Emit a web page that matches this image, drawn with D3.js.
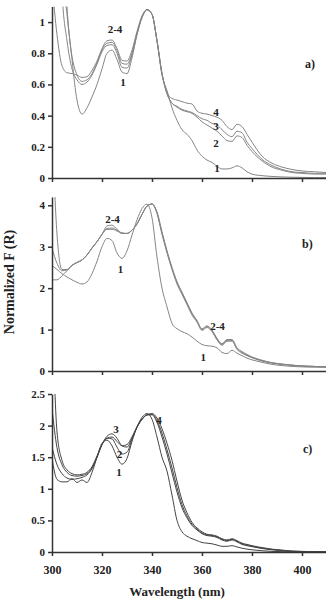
<!DOCTYPE html>
<html>
<head>
<meta charset="utf-8">
<script src="https://cdn.jsdelivr.net/npm/d3@7"></script>
<style>
  body { margin: 0; background: #fff; }
  text { font-family: "Liberation Serif", "Times New Roman", serif; font-weight: bold; fill: #222; }
  .axis path, .axis line { stroke: #333; stroke-width: 1.5; }
</style>
</head>
<body>
<svg id="chart" width="326" height="600"></svg>
<script>
// Wavelength grid (nm) shared by every curve
var WAVE = [300, 302, 304, 306, 308, 310, 312, 314, 316, 318, 320, 322, 324, 326, 328, 330,
  332, 334, 336, 338, 340, 342, 344, 346, 348, 350, 352, 354, 356, 358, 360, 362, 364, 366,
  368, 370, 372, 374, 376, 378, 380, 384, 388, 392, 396, 400, 405, 410];

// Panel a)
var A1 = [5.0, 3.2, 1.8, 1.1, 0.76, 0.5, 0.41, 0.45, 0.52, 0.6, 0.7, 0.8, 0.82, 0.76, 0.68, 0.67,
  0.77, 0.92, 1.03, 1.08, 1.05, 0.88, 0.66, 0.56, 0.45, 0.37, 0.31, 0.28, 0.24, 0.18, 0.14, 0.115, 0.1, 0.075,
  0.058, 0.058, 0.065, 0.078, 0.065, 0.04, 0.025, 0.015, 0.01, 0.007, 0.005, 0.004, 0.003, 0.003];
var A2 = [6.0, 3.0, 1.2, 0.88, 0.7, 0.63, 0.6, 0.615, 0.66, 0.73, 0.81, 0.85, 0.855, 0.8, 0.71, 0.705,
  0.79, 0.92, 1.03, 1.08, 1.05, 0.88, 0.67, 0.54, 0.48, 0.455, 0.435, 0.425, 0.415, 0.39, 0.36, 0.34, 0.32, 0.3,
  0.27, 0.24, 0.235, 0.27, 0.26, 0.21, 0.17, 0.11, 0.07, 0.05, 0.035, 0.03, 0.025, 0.025];
var A3 = [7.0, 3.6, 1.4, 1.05, 0.78, 0.66, 0.62, 0.63, 0.67, 0.74, 0.82, 0.865, 0.87, 0.82, 0.735, 0.73,
  0.8, 0.93, 1.03, 1.08, 1.05, 0.88, 0.67, 0.54, 0.48, 0.46, 0.44, 0.43, 0.42, 0.4, 0.38, 0.37, 0.35, 0.34,
  0.31, 0.28, 0.265, 0.3, 0.29, 0.23, 0.19, 0.12, 0.08, 0.055, 0.04, 0.035, 0.03, 0.03];
var A4 = [1.25, 0.92, 0.72, 0.675, 0.67, 0.66, 0.645, 0.65, 0.69, 0.75, 0.83, 0.88, 0.885, 0.83, 0.755, 0.75,
  0.82, 0.94, 1.04, 1.08, 1.05, 0.88, 0.67, 0.55, 0.51, 0.5, 0.49, 0.48, 0.475, 0.43, 0.415, 0.41, 0.4, 0.39,
  0.37, 0.33, 0.31, 0.345, 0.33, 0.28, 0.23, 0.14, 0.095, 0.07, 0.055, 0.045, 0.04, 0.035];

// Panel b)
var B1 = [2.55, 2.45, 2.35, 2.27, 2.2, 2.14, 2.1, 2.15, 2.35, 2.65, 3.0, 3.2, 3.15, 2.85, 2.72, 2.9,
  3.28, 3.65, 3.92, 4.03, 3.7, 2.75, 2.0, 1.55, 1.15, 1.02, 0.95, 0.9, 0.82, 0.72, 0.64, 0.61, 0.6, 0.56,
  0.45, 0.42, 0.5, 0.43, 0.37, 0.31, 0.27, 0.21, 0.16, 0.13, 0.11, 0.1, 0.09, 0.09];
var B2 = [6.0, 3.3, 2.45, 2.45, 2.55, 2.62, 2.68, 2.8, 2.97, 3.12, 3.3, 3.5, 3.52, 3.42, 3.33, 3.32,
  3.4, 3.55, 3.78, 3.98, 4.03, 3.8, 3.3, 2.85, 2.45, 2.1, 1.85, 1.6, 1.35, 1.18, 0.98, 1.05, 0.95, 0.75,
  0.62, 0.72, 0.72, 0.52, 0.43, 0.37, 0.32, 0.24, 0.19, 0.16, 0.14, 0.12, 0.11, 0.1];
var B3 = [2.97, 2.6, 2.42, 2.44, 2.55, 2.62, 2.68, 2.8, 2.97, 3.12, 3.3, 3.44, 3.45, 3.4, 3.33, 3.32,
  3.4, 3.55, 3.78, 3.98, 4.03, 3.82, 3.33, 2.88, 2.48, 2.13, 1.88, 1.63, 1.38, 1.2, 1.0, 1.07, 0.97, 0.77,
  0.64, 0.74, 0.74, 0.54, 0.45, 0.38, 0.33, 0.25, 0.2, 0.16, 0.14, 0.12, 0.11, 0.1];
var B4 = [2.2, 2.2, 2.3, 2.42, 2.55, 2.62, 2.68, 2.8, 2.97, 3.12, 3.3, 3.42, 3.42, 3.38, 3.32, 3.32,
  3.4, 3.55, 3.78, 3.98, 4.03, 3.84, 3.36, 2.9, 2.5, 2.16, 1.9, 1.65, 1.4, 1.22, 1.02, 1.09, 0.99, 0.79,
  0.66, 0.76, 0.76, 0.56, 0.47, 0.4, 0.34, 0.26, 0.2, 0.17, 0.14, 0.12, 0.11, 0.1];

// Panel c)
var C1 = [1.48, 1.15, 1.11, 1.11, 1.16, 1.1, 1.14, 1.1, 1.26, 1.5, 1.72, 1.77, 1.68, 1.5, 1.39, 1.48,
  1.75, 1.98, 2.13, 2.19, 2.1, 1.82, 1.5, 1.28, 0.9, 0.5, 0.32, 0.25, 0.21, 0.18, 0.15, 0.14, 0.13, 0.11,
  0.09, 0.09, 0.1, 0.08, 0.06, 0.045, 0.035, 0.02, 0.01, 0.005, 0.003, 0.002, 0, 0];
var C2 = [1.66, 1.38, 1.24, 1.17, 1.15, 1.16, 1.18, 1.22, 1.32, 1.5, 1.7, 1.8, 1.79, 1.66, 1.55, 1.58,
  1.78, 1.97, 2.1, 2.17, 2.17, 2.05, 1.82, 1.55, 1.25, 0.95, 0.7, 0.54, 0.42, 0.35, 0.29, 0.26, 0.25, 0.23,
  0.19, 0.17, 0.19, 0.16, 0.12, 0.1, 0.085, 0.055, 0.035, 0.02, 0.01, 0.006, 0.003, 0];
var C3 = [2.27, 1.65, 1.38, 1.26, 1.21, 1.2, 1.21, 1.24, 1.33, 1.5, 1.7, 1.83, 1.87, 1.8, 1.68, 1.66,
  1.8, 1.98, 2.1, 2.17, 2.18, 2.08, 1.88, 1.62, 1.33, 1.02, 0.75, 0.57, 0.44, 0.36, 0.3, 0.27, 0.26, 0.24,
  0.2, 0.18, 0.2, 0.17, 0.13, 0.11, 0.09, 0.06, 0.04, 0.025, 0.012, 0.008, 0.004, 0];
var C4 = [4.0, 1.9, 1.45, 1.3, 1.24, 1.22, 1.23, 1.26, 1.35, 1.52, 1.7, 1.8, 1.82, 1.75, 1.68, 1.7,
  1.82, 1.98, 2.1, 2.17, 2.19, 2.12, 1.95, 1.72, 1.45, 1.12, 0.82, 0.62, 0.47, 0.38, 0.32, 0.28, 0.27, 0.25,
  0.21, 0.19, 0.21, 0.18, 0.14, 0.12, 0.1, 0.07, 0.045, 0.03, 0.015, 0.01, 0.005, 0];

// Axes
var X_DOMAIN = [300, 410];
var X_TICKS = [300, 320, 340, 360, 380, 400];
var A_TICKS = [0, 0.2, 0.4, 0.6, 0.8, 1];
var B_TICKS = [0, 1, 2, 3, 4];
var C_TICKS = [0, 0.5, 1, 1.5, 2, 2.5];
var Y_MAX = [1.1, 4.2, 2.5];

// Annotations in data units: [text, wavelength, value]
var A_NOTES = [["2-4", 325.2, 0.93], ["1", 328.4, 0.59], ["4", 365.6, 0.40],
  ["3", 365.6, 0.31], ["2", 365.6, 0.2], ["1", 366, 0.04]];
var B_NOTES = [["2-4", 324.2, 3.57], ["1", 327.4, 2.37], ["2-4", 366.2, 0.99], ["1", 360.5, 0.24]];
var C_NOTES = [["3", 325.6, 1.88], ["2", 327, 1.49], ["1", 326.8, 1.21], ["4", 342.8, 2.02]];
var PANEL_NAMES = ["a)", "b)", "c)"];
var NAME_POS = [[401.2, 0.705], [400, 2.97], [400.4, 1.56]];

/*
 * Layout
 */
var LEFT = 52, RIGHT = 327;
var BOTTOMS = [178, 371, 552];
var TOPS = [6.5, 197, 394];
var COLORS = ["#858585", "#858585", "#444"];

var svg = d3.select("#chart");
var x = d3.scaleLinear().domain(X_DOMAIN).range([LEFT, RIGHT]);

var panels = [
  { series: [A1, A2, A3, A4], ticks: A_TICKS, notes: A_NOTES },
  { series: [B1, B2, B3, B4], ticks: B_TICKS, notes: B_NOTES },
  { series: [C1, C2, C3, C4], ticks: C_TICKS, notes: C_NOTES }
];

panels.forEach(function (p, i) {
  var y = d3.scaleLinear().domain([0, Y_MAX[i]]).range([BOTTOMS[i], TOPS[i]]);
  var g = svg.append("g");

  // clip so the steep left edges stop at the top of the axis
  g.append("clipPath").attr("id", "clip" + i)
    .append("rect")
    .attr("x", LEFT).attr("y", TOPS[i])
    .attr("width", RIGHT - LEFT).attr("height", BOTTOMS[i] - TOPS[i]);

  var line = d3.line()
    .x(function (d, k) { return x(WAVE[k]); })
    .y(function (d) { return y(d); })
    .curve(d3.curveMonotoneX);

  g.append("g").attr("clip-path", "url(#clip" + i + ")")
    .selectAll("path")
    .data(p.series)
    .enter().append("path")
    .attr("d", line)
    .attr("fill", "none")
    .attr("stroke", COLORS[i])
    .attr("stroke-width", 1);

  // y axis
  g.append("g")
    .attr("class", "axis")
    .attr("transform", "translate(" + LEFT + ",0)")
    .call(d3.axisLeft(y).tickValues(p.ticks).tickSize(4).tickSizeOuter(0)
      .tickFormat(function (v) { return String(v); }))
    .selectAll("text")
    .style("font-size", "11px")
    .attr("fill", "#222");

  // x axis
  var xa = g.append("g")
    .attr("class", "axis")
    .attr("transform", "translate(0," + BOTTOMS[i] + ")")
    .call(d3.axisBottom(x).tickValues(X_TICKS).tickSize(4).tickSizeOuter(0)
      .tickFormat(i == 2 ? function (v) { return String(v); } : function () { return ""; }));
  xa.selectAll("text")
    .style("font-size", "12px")
    .attr("fill", "#222")
    .attr("dy", "1.25em");

  // curve numbers
  g.selectAll(".note")
    .data(p.notes)
    .enter().append("text")
    .attr("class", "note")
    .attr("x", function (d) { return x(d[1]); })
    .attr("y", function (d) { return y(d[2]); })
    .attr("text-anchor", "middle")
    .style("font-size", "11px")
    .text(function (d) { return d[0]; });

  // panel letter
  g.append("text")
    .attr("x", x(NAME_POS[i][0]))
    .attr("y", y(NAME_POS[i][1]))
    .style("font-size", "12px")
    .text(PANEL_NAMES[i]);
});

// axis titles
svg.append("text")
  .attr("transform", "translate(14,282) rotate(-90)")
  .attr("text-anchor", "middle")
  .style("font-size", "14px")
  .text("Normalized F (R)");

svg.append("text")
  .attr("x", 177)
  .attr("y", 596)
  .attr("text-anchor", "middle")
  .style("font-size", "13px")
  .text("Wavelength (nm)");
</script>
</body>
</html>
